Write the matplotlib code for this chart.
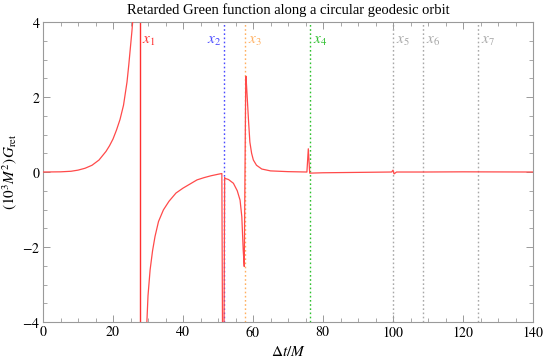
import numpy as np
import matplotlib
matplotlib.use("Agg")
import matplotlib.pyplot as plt
from matplotlib.ticker import MultipleLocator

plt.rcParams['font.family'] = ['Liberation Serif', 'DejaVu Serif']
plt.rcParams['mathtext.fontset'] = 'stix'

# --- data ---
seg1_t = [0, 5, 8, 10, 12, 14, 16, 18, 19, 20, 21, 22, 23, 24, 24.5, 25, 25.4, 25.7, 26.0]
seg1_g = [0, 0.005, 0.02, 0.05, 0.10, 0.18, 0.32, 0.55, 0.70, 0.88, 1.12, 1.40, 1.78, 2.40, 2.85, 3.35, 3.75, 4.1, 4.6]

seg2_t = [29.4, 30, 30.6, 31.3, 32, 33, 34.4, 36, 38, 40, 42, 44, 46, 48, 50, 51.1,
          51.3, 51.7, 51.9]
seg2_g = [-4.6, -3.3, -2.61, -2.1, -1.72, -1.32, -1.01, -0.78, -0.56, -0.43, -0.32, -0.21, -0.15, -0.10, -0.06, -0.04,
          -4.6, -4.6, -0.15]

seg3_t = [52.0, 53, 54.4, 55.5, 56.3, 56.8, 57.2, 57.5, 57.9, 58.0, 58.4, 58.7, 59.1, 59.6, 60.1, 61, 62.5, 65, 70,
          75.4, 75.8, 76.2, 80, 90, 99.6, 100.0, 100.3, 101, 108.6, 120, 140]
seg3_g = [-0.17, -0.2, -0.3, -0.5, -0.75, -1.19, -2.08, -2.52, 2.2, 2.55, 1.9, 1.4, 0.8, 0.5, 0.32, 0.18, 0.08, 0.03, 0.01,
          0.0, 0.62, -0.03, -0.02, -0.01, 0.0, 0.05, -0.05, 0.0, 0.0, 0.005, 0.0]

x_ticks = [0, 20, 40, 60, 80, 100, 120, 140]
y_ticks = [-4, -2, 0, 2, 4]

marker_names = [r'$x_1$', r'$x_2$', r'$x_3$', r'$x_4$', r'$x_5$', r'$x_6$', r'$x_7$']
marker_t = [27.6, 51.7, 57.7, 76.3, 100.0, 108.6, 124.3]
marker_colors = ['#ff3030', '#4a4aff', '#ffb060', '#30c030', '#a8a8a8', '#a8a8a8', '#a8a8a8']

fig = plt.figure(figsize=(5.43, 3.61), dpi=100)
ax = fig.add_axes([0.0792, 0.108, 0.9024, 0.831])

for t, c, name in zip(marker_t, marker_colors, marker_names):
    if name == r'$x_1$':
        ax.axvline(t, color=c, lw=1.0, ls='-', zorder=1)
    else:
        ax.axvline(t, color=c, lw=1.0, ls=(0, (1.2, 1.8)), zorder=1)
    if name == r'$x_2$':
        ax.text(t - 0.8, 3.47, name, color=c, fontsize=11, ha='right', va='center')
    else:
        ax.text(t + 0.8, 3.47, name, color=c, fontsize=11, ha='left', va='center')

curve_color = '#ff4a4a'
for tt, gg in [(seg1_t, seg1_g), (seg2_t, seg2_g), (seg3_t, seg3_g)]:
    ax.plot(tt, gg, color=curve_color, lw=0.9, zorder=3)

ax.set_xlim(0, 140)
ax.set_ylim(-4, 4)
ax.set_xticks(x_ticks, [rf'${v}$' for v in x_ticks])
ax.set_yticks(y_ticks, [rf'${v}$' if v >= 0 else rf'$-{abs(v)}$' for v in y_ticks])
ax.xaxis.set_minor_locator(MultipleLocator(5))
ax.yaxis.set_minor_locator(MultipleLocator(0.5))
frame_c = '#9a9a9a'
for s in ax.spines.values():
    s.set_color(frame_c)
    s.set_linewidth(0.8)
ax.tick_params(which='both', direction='in', top=True, right=True, colors=frame_c,
               labelcolor='black', labelsize=10)
ax.tick_params(which='major', length=5, width=0.7, pad=2)
ax.tick_params(which='minor', length=3, width=0.6)

ax.set_xlabel(r'$\Delta t/M$', fontsize=11, labelpad=4)
ax.set_ylabel(r'$(10^3 M^2)G_{\rm ret}$', fontsize=11)
ax.yaxis.set_label_coords(-0.048, 0.5)
ax.set_title('Retarded Green function along a circular geodesic orbit', fontsize=10.5, pad=6)

fig.savefig('out.png', dpi=100)
